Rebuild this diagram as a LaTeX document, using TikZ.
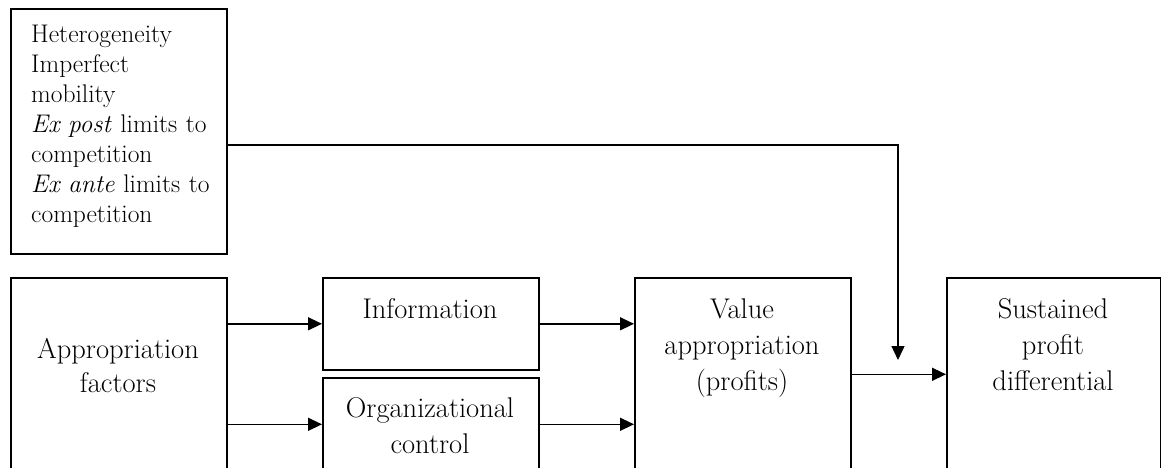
\documentclass[tikz,border=0pt]{standalone}
\usetikzlibrary{arrows.meta}
\begin{document}
\begin{tikzpicture}[x=1pt,y=-1pt,
  box/.style={draw,line width=1.6pt,inner sep=0pt,anchor=north west},
  conn/.style={line width=1.4pt,-{Triangle[length=14pt,width=13pt]}},
  small/.style={font=\fontsize{25.5}{30}\selectfont,inner sep=0pt,text width=205pt,align=left,anchor=base west},
  big/.style={font=\fontsize{28.5}{36}\selectfont,inner sep=0pt,text width=214pt,align=center,anchor=base}]
\useasboundingbox (0,0) rectangle (1161,468);
% boxes
\node[box,minimum width=216pt,minimum height=245pt] (top) at (10,8) {};
\node[box,minimum width=216pt,minimum height=193pt] (app) at (10,277) {};
\node[box,minimum width=216pt,minimum height=92pt] (info) at (322,277) {};
\node[box,minimum width=216pt,minimum height=93pt] (org) at (322,377) {};
\node[box,minimum width=216pt,minimum height=193pt] (value) at (634,277) {};
\node[box,minimum width=214pt,minimum height=193pt] (sust) at (946,277) {};
% texts
\node[small] (toptext) at (31,43) {Heterogeneity\\Imperfect\\mobility\\\textit{Ex post} limits to\\competition\\\textit{Ex ante} limits to\\competition};
\node[big,font=\fontsize{28.5}{34}\selectfont] (apptext) at (118,358) {Appropriation\\factors};
\node[big] (infotext) at (430,318) {Information};
\node[big] (orgtext) at (430,417) {Organizational\\control};
\node[big] (valuetext) at (742,318) {Value\\appropriation\\(profits)};
\node[big] (susttext) at (1053,318) {Sustained\\profit\\differential};
% connectors
\coordinate (bend) at (898,145);
\coordinate (tip) at (898,360);
\draw[conn] (app.east |- info.west) -- (info.west);
\draw[conn] (app.east |- org.west) -- (org.west);
\draw[conn] (info.east) -- (value.west |- info.east);
\draw[conn] (org.east) -- (value.west |- org.east);
\draw[conn] (value.east) -- (sust.west |- value.east);
\draw[conn,line join=miter] (top.east |- bend) -- (bend) -- (tip);
\end{tikzpicture}
\end{document}
